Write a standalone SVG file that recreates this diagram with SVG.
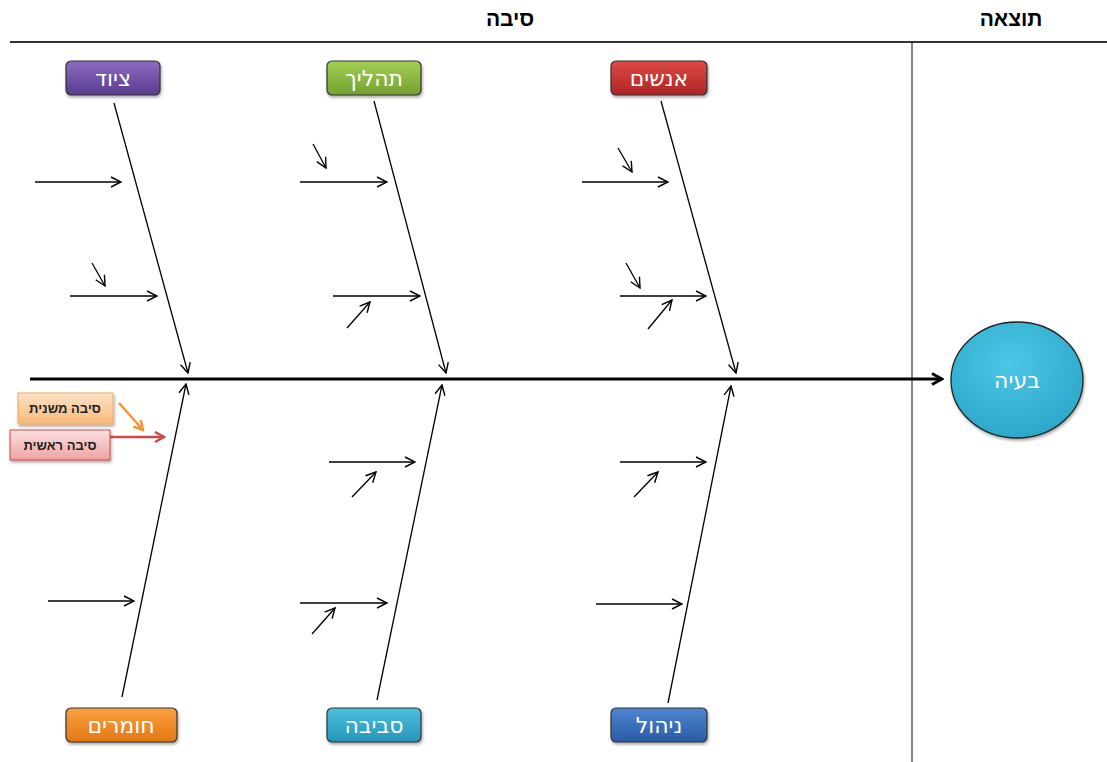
<svg xmlns="http://www.w3.org/2000/svg" width="1107" height="762" viewBox="0 0 1107 762">
<style>
.hdr{font-family:"Liberation Sans","DejaVu Sans",sans-serif;font-weight:bold;font-size:21px;fill:#000;text-anchor:middle}
.lbl{font-family:"DejaVu Sans","Liberation Sans",sans-serif;font-size:22px;fill:#fff;text-anchor:middle}
.leg{font-family:"Liberation Sans","DejaVu Sans",sans-serif;font-weight:bold;font-size:13px;fill:#222;text-anchor:middle}
.box{stroke:#333;stroke-width:1.2}
.ar{stroke:#000;stroke-width:1.3;fill:none;marker-end:url(#ah)}
</style>
<defs>
<marker id="ah" viewBox="0 0 12 12" refX="11" refY="6" markerWidth="12" markerHeight="12" markerUnits="userSpaceOnUse" orient="auto">
<path d="M1,1 L11,6 L1,11" fill="none" stroke="#000" stroke-width="1.4"/>
</marker>
<marker id="ahb" viewBox="0 0 14 14" refX="12" refY="7" markerWidth="14" markerHeight="14" markerUnits="userSpaceOnUse" orient="auto">
<path d="M2,1.5 L12,7 L2,12.5" fill="none" stroke="#000" stroke-width="3"/>
</marker>
<marker id="aho" viewBox="0 0 12 12" refX="10" refY="6" markerWidth="12" markerHeight="12" markerUnits="userSpaceOnUse" orient="auto">
<path d="M1,1 L10,6 L1,11" fill="none" stroke="#f0963a" stroke-width="2.5"/>
</marker>
<marker id="ahr" viewBox="0 0 12 12" refX="10" refY="6" markerWidth="12" markerHeight="12" markerUnits="userSpaceOnUse" orient="auto">
<path d="M1,1 L10,6 L1,11" fill="none" stroke="#c94a4a" stroke-width="2.5"/>
</marker>
<linearGradient id="gP" x1="0" y1="0" x2="0" y2="1"><stop offset="0" stop-color="#8a6cc0"/><stop offset="1" stop-color="#5a3b8e"/></linearGradient>
<linearGradient id="gG" x1="0" y1="0" x2="0" y2="1"><stop offset="0" stop-color="#a4cf55"/><stop offset="1" stop-color="#74a02e"/></linearGradient>
<linearGradient id="gR" x1="0" y1="0" x2="0" y2="1"><stop offset="0" stop-color="#dc4a45"/><stop offset="1" stop-color="#ad2524"/></linearGradient>
<linearGradient id="gO" x1="0" y1="0" x2="0" y2="1"><stop offset="0" stop-color="#f9a040"/><stop offset="1" stop-color="#e37814"/></linearGradient>
<linearGradient id="gT" x1="0" y1="0" x2="0" y2="1"><stop offset="0" stop-color="#4cc0de"/><stop offset="1" stop-color="#2596b8"/></linearGradient>
<linearGradient id="gB" x1="0" y1="0" x2="0" y2="1"><stop offset="0" stop-color="#4d85cf"/><stop offset="1" stop-color="#2a5ba6"/></linearGradient>
<linearGradient id="gLO" x1="0" y1="0" x2="0" y2="1"><stop offset="0" stop-color="#fde3c8"/><stop offset="1" stop-color="#f8b87a"/></linearGradient>
<linearGradient id="gLR" x1="0" y1="0" x2="0" y2="1"><stop offset="0" stop-color="#fbe0e0"/><stop offset="1" stop-color="#f0a2a2"/></linearGradient>
<radialGradient id="gE" cx="0.45" cy="0.35" r="0.7"><stop offset="0" stop-color="#4dc6e6"/><stop offset="1" stop-color="#2aa6c9"/></radialGradient>
<filter id="sh" x="-20%" y="-20%" width="140%" height="150%"><feDropShadow dx="1" dy="2" stdDeviation="1.5" flood-color="#000" flood-opacity="0.35"/></filter>
</defs>
<rect width="1107" height="762" fill="#fff"/>
<g id="header">
<text class="hdr" x="510" y="26">סיבה</text>
<text class="hdr" x="1011" y="26">תוצאה</text>
<line x1="10" y1="42" x2="1107" y2="42" stroke="#333" stroke-width="2"/>
<line x1="912" y1="42" x2="912" y2="762" stroke="#333" stroke-width="1.2"/>
</g>
<g id="connectors">
<line x1="30" y1="379" x2="942" y2="379" stroke="#000" stroke-width="3" marker-end="url(#ahb)"/>
<line class="ar" x1="114" y1="103" x2="188" y2="373"/>
<line class="ar" x1="374" y1="101" x2="446" y2="373"/>
<line class="ar" x1="661" y1="101" x2="736" y2="373"/>
<line class="ar" x1="122" y1="697" x2="186" y2="384"/>
<line class="ar" x1="377" y1="700" x2="442" y2="385"/>
<line class="ar" x1="668" y1="703" x2="731" y2="386"/>
<line class="ar" x1="35" y1="182" x2="121" y2="182"/>
<line class="ar" x1="70" y1="296" x2="157" y2="296"/>
<line class="ar" x1="92" y1="263" x2="105" y2="286"/>
<line class="ar" x1="300" y1="182" x2="387" y2="182"/>
<line class="ar" x1="313" y1="144" x2="326" y2="168"/>
<line class="ar" x1="333" y1="296" x2="420" y2="296"/>
<line class="ar" x1="347" y1="328" x2="370" y2="302"/>
<line class="ar" x1="582" y1="182" x2="668" y2="182"/>
<line class="ar" x1="618" y1="148" x2="632" y2="172"/>
<line class="ar" x1="620" y1="296" x2="706" y2="296"/>
<line class="ar" x1="626" y1="263" x2="640" y2="288"/>
<line class="ar" x1="648" y1="329" x2="672" y2="300"/>
<line class="ar" x1="48" y1="601" x2="134" y2="601"/>
<line class="ar" x1="329" y1="462" x2="415" y2="462"/>
<line class="ar" x1="352" y1="497" x2="376" y2="472"/>
<line class="ar" x1="300" y1="603" x2="387" y2="603"/>
<line class="ar" x1="312" y1="634" x2="335" y2="608"/>
<line class="ar" x1="620" y1="462" x2="706" y2="462"/>
<line class="ar" x1="634" y1="497" x2="658" y2="472"/>
<line class="ar" x1="596" y1="604" x2="682" y2="604"/>
</g>
<g id="node-equipment"><rect class="box" x="66" y="61" width="94" height="34" rx="5" fill="url(#gP)" filter="url(#sh)"/><text class="lbl" x="113" y="86">ציוד</text></g>
<g id="node-process"><rect class="box" x="327" y="61" width="94" height="34" rx="5" fill="url(#gG)" filter="url(#sh)"/><text class="lbl" x="374" y="86">תהליך</text></g>
<g id="node-people"><rect class="box" x="611" y="61" width="96" height="34" rx="5" fill="url(#gR)" filter="url(#sh)"/><text class="lbl" x="659" y="86">אנשים</text></g>
<g id="node-materials"><rect class="box" x="66" y="708" width="111" height="34" rx="5" fill="url(#gO)" filter="url(#sh)"/><text class="lbl" x="121" y="733">חומרים</text></g>
<g id="node-environment"><rect class="box" x="327" y="708" width="94" height="34" rx="5" fill="url(#gT)" filter="url(#sh)"/><text class="lbl" x="374" y="733">סביבה</text></g>
<g id="node-management"><rect class="box" x="611" y="708" width="96" height="34" rx="5" fill="url(#gB)" filter="url(#sh)"/><text class="lbl" x="659" y="733">ניהול</text></g>
<g id="node-problem"><ellipse cx="1017" cy="380" rx="66" ry="58" fill="url(#gE)" stroke="#222" stroke-width="1.3" filter="url(#sh)"/><text class="lbl" x="1017" y="388">בעיה</text></g>
<g id="legend">
<rect x="18" y="393" width="95" height="31" fill="url(#gLO)" stroke="#f2a860" stroke-width="1" filter="url(#sh)"/>
<text class="leg" x="65" y="413">סיבה משנית</text>
<line x1="119" y1="403" x2="143" y2="430" stroke="#f0963a" stroke-width="2.5" marker-end="url(#aho)"/>
<rect x="10" y="430" width="100" height="30" fill="url(#gLR)" stroke="#c94a4a" stroke-width="1" filter="url(#sh)"/>
<text class="leg" x="60" y="450">סיבה ראשית</text>
<line x1="110" y1="437" x2="164" y2="437" stroke="#c94a4a" stroke-width="2.5" marker-end="url(#ahr)"/>
</g>
</svg>
